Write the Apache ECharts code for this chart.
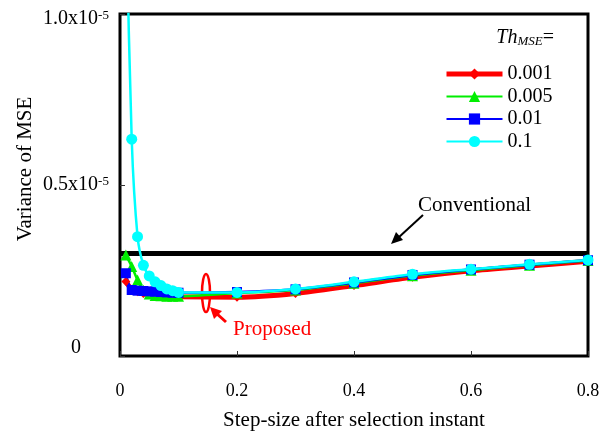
<!DOCTYPE html>
<html>
<head>
<meta charset="utf-8">
<script src="https://cdn.jsdelivr.net/npm/echarts@6/dist/echarts.min.js"></script>
<style>html,body{margin:0;padding:0;background:#fff}#c{width:612px;height:432px}</style>
</head>
<body>
<div id="c"></div>
<script>
// step-size values (x)
var stepSizes = [0.01,0.02,0.03,0.04,0.05,0.06,0.07,0.08,0.09,0.1,0.2,0.3,0.4,0.5,0.6,0.7,0.8];
// variance of MSE (units of 1e-5)
var th0001 = [0.218,0.195,0.188,0.183,0.180,0.178,0.176,0.175,0.174,0.173,0.172,0.183,0.206,0.230,0.249,0.263,0.277];
var th0005 = [0.295,0.262,0.222,0.192,0.181,0.177,0.176,0.175,0.175,0.175,0.184,0.193,0.213,0.235,0.251,0.265,0.279];
var th001  = [0.242,0.193,0.191,0.190,0.189,0.188,0.187,0.186,0.185,0.185,0.187,0.195,0.215,0.237,0.253,0.267,0.280];
var th01   = [1.35,0.634,0.349,0.265,0.234,0.217,0.206,0.196,0.191,0.186,0.186,0.196,0.217,0.239,0.254,0.268,0.281];
var conventional = 0.3;
var legendNames = ['0.001','0.005','0.01','0.1'];
var xTicks = [0,0.2,0.4,0.6,0.8];
var yTicks = [0,0.5,1.0];

function pairs(ys){ return stepSizes.map(function(x,i){ return [x, ys[i]]; }); }

var serif = 'Liberation Serif';
var chart = echarts.init(document.getElementById('c'), null, {renderer:'canvas'});
var lineSeries = function(name, ys, color, width, symbol, size){
  return {
    name: name, type: 'line', data: pairs(ys), smooth: 0.3,
    symbol: symbol, symbolSize: size, showSymbol: true,
    lineStyle: {color: color, width: width},
    itemStyle: {color: color, borderWidth: 0},
    emphasis: {disabled: true}, animation: false, clip: true
  };
};
chart.setOption({
  animation: false,
  backgroundColor: '#fff',
  grid: {left: 120, top: 14, right: 24, bottom: 76, show: true, borderColor: '#000', borderWidth: 3,
    backgroundColor: 'transparent', containLabel: false, outerBoundsMode: 'none'},
  xAxis: {
    type: 'value', min: 0, max: 0.8, interval: 0.2,
    axisLine: {show: false},
    axisTick: {show: true, inside: true, length: 5, lineStyle: {color: '#333', width: 1}},
    splitLine: {show: false},
    axisLabel: {margin: 26, fontFamily: serif, fontSize: 18, color: '#000',
      formatter: function(v){ return xTicks.indexOf(+v.toFixed(1)) >= 0 ? String(+v.toFixed(1)) : ''; }},
    name: 'Step-size after selection instant', nameLocation: 'middle', nameGap: 54,
    nameTextStyle: {fontFamily: serif, fontSize: 21, color: '#000'}
  },
  yAxis: {
    type: 'value', min: 0, max: 1.0, interval: 0.5,
    axisLine: {show: false},
    axisTick: {show: true, inside: true, length: 5, lineStyle: {color: '#333', width: 1}},
    splitLine: {show: false},
    axisLabel: {
      margin: 44, align: 'center', fontFamily: serif, fontSize: 20, color: '#000',
      formatter: function(v){
        if (v === 0) return '{z|0}';
        if (v >= 1) return '{t|' + v.toFixed(1) + 'x10}{ts|-5}';
        return '{b|' + v.toFixed(1) + 'x10}{bs|-5}';
      },
      rich: {
        z: {fontFamily: serif, fontSize: 20, color: '#000', padding: [0,0,16,0]},
        t: {fontFamily: serif, fontSize: 20, color: '#000', padding: [10,0,0,0]},
        ts: {fontFamily: serif, fontSize: 13, color: '#000', verticalAlign: 'top', padding: [10,0,0,0]},
        b: {fontFamily: serif, fontSize: 20, color: '#000'},
        bs: {fontFamily: serif, fontSize: 13, color: '#000', verticalAlign: 'top'}
      }
    }
  },
  legend: {
    orient: 'vertical', left: 444, top: 64, padding: 0, itemWidth: 56, itemHeight: 14, itemGap: 2.5,
    textStyle: {fontFamily: serif, fontSize: 20, color: '#000'},
    data: [
      {name: legendNames[0], lineStyle: {width: 5}},
      {name: legendNames[1]},
      {name: legendNames[2]},
      {name: legendNames[3]}
    ],
    selectedMode: false
  },
  series: [
    {
      name: 'Conventional', type: 'line', data: [[0, conventional], [0.8, conventional]],
      symbol: 'none', lineStyle: {color: '#000', width: 5}, emphasis: {disabled: true}, z: 1
    },
    lineSeries(legendNames[0], th0001, '#ff0000', 5, 'diamond', 9),
    lineSeries(legendNames[1], th0005, '#00ee00', 2.5, 'triangle', 11),
    lineSeries(legendNames[2], th001, '#0000ff', 2.5, 'rect', 10),
    lineSeries(legendNames[3], th01, '#00ffff', 2.5, 'circle', 11)
  ],
  graphic: [
    {type: 'text', x: 25, y: 169, rotation: Math.PI/2,
      style: {text: 'Variance of MSE', fontFamily: serif, fontSize: 21, fill: '#000', align: 'center', verticalAlign: 'middle'}},
    {type: 'text', x: 554, y: 38,
      style: {text: '{i|Th}{s|MSE}{e|=}', align: 'right', verticalAlign: 'middle',
        rich: {
          i: {fontFamily: serif, fontStyle: 'italic', fontSize: 20, fill: '#000'},
          s: {fontFamily: serif, fontStyle: 'italic', fontSize: 13, fill: '#000', verticalAlign: 'bottom'},
          e: {fontFamily: serif, fontSize: 20, fill: '#000'}
        }}},
    {type: 'text', x: 418, y: 205,
      style: {text: 'Conventional', fontFamily: serif, fontSize: 21, fill: '#000', verticalAlign: 'middle'}},
    {type: 'line', shape: {x1: 423, y1: 215, x2: 398, y2: 238}, style: {stroke: '#000', lineWidth: 2}},
    {type: 'polygon', shape: {points: [[391, 244], [396, 232], [403, 240]]}, style: {fill: '#000'}},
    {type: 'text', x: 233, y: 329,
      style: {text: 'Proposed', fontFamily: serif, fontSize: 21, fill: '#ff0000', verticalAlign: 'middle'}},
    {type: 'ellipse', shape: {cx: 206, cy: 293, rx: 4, ry: 19}, style: {fill: 'none', stroke: '#ff0000', lineWidth: 2.5}},
    {type: 'line', shape: {x1: 226, y1: 322, x2: 216, y2: 313}, style: {stroke: '#ff0000', lineWidth: 3}},
    {type: 'polygon', shape: {points: [[210, 307], [222, 311], [214, 319]]}, style: {fill: '#ff0000'}}
  ]
});
</script>
</body>
</html>
